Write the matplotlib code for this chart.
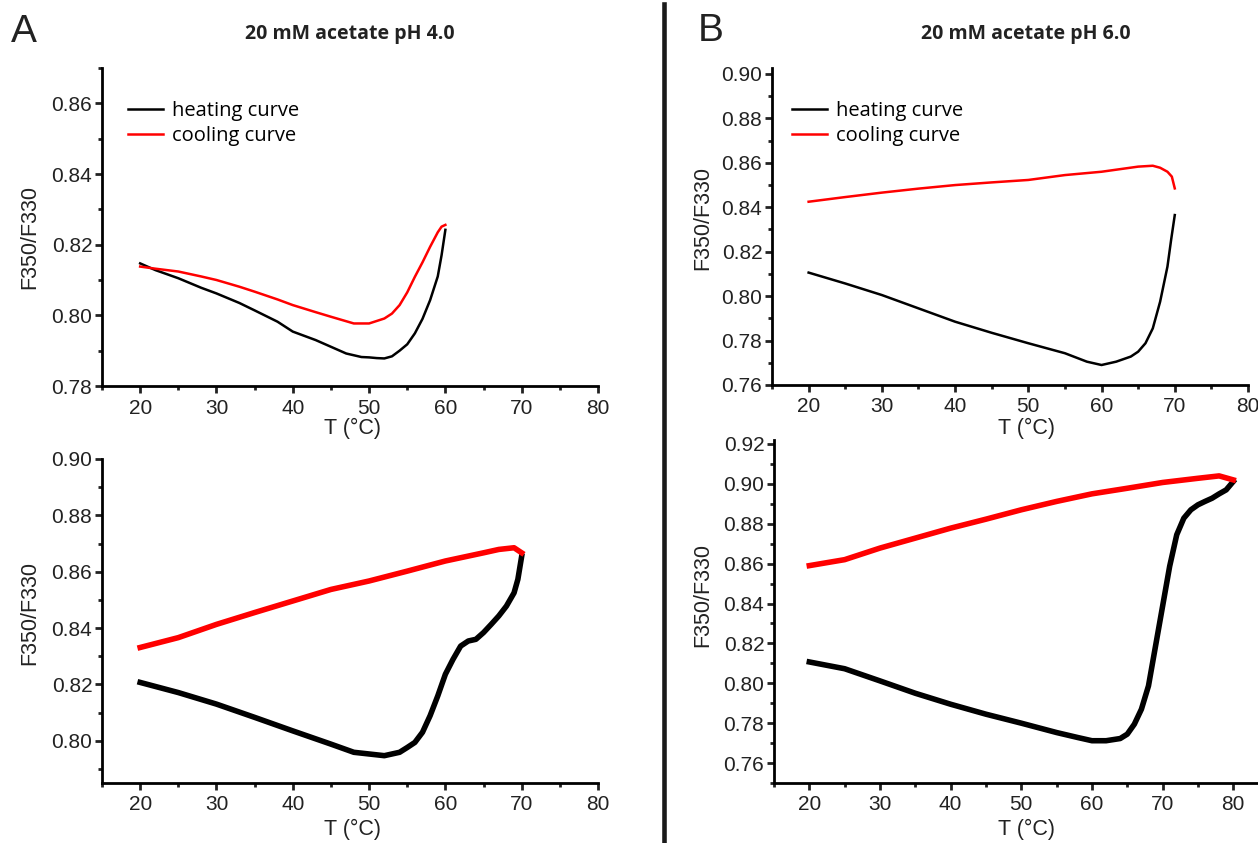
import matplotlib
matplotlib.use("Agg")
import matplotlib.pyplot as plt
from matplotlib.lines import Line2D
from matplotlib.ticker import MultipleLocator, FormatStrFormatter

# panel A top: 20 mM acetate pH 4.0, heated to 60 C
a1_heat_t = [20, 22, 25, 28, 30, 33, 35, 38, 40, 43, 45, 47, 49, 50, 51, 52, 53, 54, 55, 56, 57, 58, 59, 59.5, 60]
a1_heat_y = [0.8147, 0.8128, 0.8105, 0.8078, 0.8062, 0.8035, 0.8014, 0.7982, 0.7954, 0.7930, 0.7911, 0.7892, 0.7882, 0.7881, 0.7879, 0.7878, 0.7884, 0.7900, 0.7918, 0.7949, 0.7990, 0.8043, 0.8110, 0.8170, 0.8242]
a1_cool_t = [20, 22, 25, 28, 30, 33, 35, 38, 40, 43, 45, 48, 50, 52, 53, 54, 55, 56, 57, 58, 59, 59.5, 60]
a1_cool_y = [0.8138, 0.8132, 0.8124, 0.8110, 0.8100, 0.8081, 0.8067, 0.8045, 0.8029, 0.8009, 0.7996, 0.7977, 0.7977, 0.7991, 0.8005, 0.8029, 0.8065, 0.8109, 0.8150, 0.8194, 0.8235, 0.8251, 0.8256]

# panel A bottom: pH 4.0, heated to 70 C
a2_heat_t = [20, 25, 30, 35, 40, 45, 48, 50, 52, 54, 55, 56, 57, 58, 59, 60, 61, 62, 63, 64, 65, 66, 67, 68, 69, 69.5, 70]
a2_heat_y = [0.8207, 0.8171, 0.8130, 0.8083, 0.8035, 0.7988, 0.7959, 0.7953, 0.7947, 0.7959, 0.7976, 0.7994, 0.8030, 0.8089, 0.8159, 0.8236, 0.8289, 0.8336, 0.8354, 0.8360, 0.8384, 0.8413, 0.8443, 0.8478, 0.8525, 0.8573, 0.8655]
a2_cool_t = [20, 25, 30, 35, 40, 45, 50, 55, 60, 65, 67, 69, 70]
a2_cool_y = [0.8331, 0.8366, 0.8413, 0.8455, 0.8496, 0.8537, 0.8567, 0.8602, 0.8638, 0.8667, 0.8679, 0.8685, 0.8667]

# panel B top: 20 mM acetate pH 6.0, heated to 70 C
b1_heat_t = [20, 25, 30, 35, 40, 45, 50, 55, 58, 60, 62, 64, 65, 66, 67, 68, 69, 69.5, 70]
b1_heat_y = [0.8106, 0.8057, 0.8005, 0.7945, 0.7885, 0.7835, 0.7788, 0.7743, 0.7705, 0.7690, 0.7705, 0.7728, 0.7750, 0.7788, 0.7855, 0.7975, 0.8133, 0.8253, 0.8365]
b1_cool_t = [20, 25, 30, 35, 40, 45, 50, 55, 60, 65, 67, 68, 69, 69.6, 70]
b1_cool_y = [0.8425, 0.8446, 0.8466, 0.8484, 0.8500, 0.8512, 0.8523, 0.8545, 0.8560, 0.8583, 0.8587, 0.8578, 0.8560, 0.8538, 0.8485]

# panel B bottom: pH 6.0, heated to 80 C
b2_heat_t = [20, 25, 30, 35, 40, 45, 50, 55, 58, 60, 62, 64, 65, 66, 67, 68, 69, 70, 71, 72, 73, 74, 75, 76, 77, 78, 79, 80]
b2_heat_y = [0.8107, 0.8073, 0.8012, 0.7950, 0.7895, 0.7845, 0.7800, 0.7753, 0.7728, 0.7712, 0.7712, 0.7723, 0.7745, 0.7795, 0.7870, 0.7987, 0.8187, 0.8387, 0.8587, 0.8745, 0.8828, 0.8870, 0.8895, 0.8912, 0.8928, 0.8950, 0.8970, 0.9012]
b2_cool_t = [20, 25, 30, 35, 40, 45, 50, 55, 60, 65, 70, 75, 78, 80]
b2_cool_y = [0.8590, 0.8620, 0.8678, 0.8728, 0.8778, 0.8823, 0.8870, 0.8912, 0.8950, 0.8978, 0.9007, 0.9028, 0.9040, 0.9020]

plt.rcParams['font.family'] = ['Liberation Sans', 'DejaVu Sans']

W, H = 1258, 843
fig = plt.figure(figsize=(W / 100, H / 100), dpi=100)

text_font = 'Open Sans'


def px_axes(left, right, top, bottom):
    return fig.add_axes([left / W, 1 - bottom / H, (right - left) / W, (bottom - top) / H])


def style(ax, xlim, ylim, ymajor):
    ax.set_xlim(*xlim)
    ax.set_ylim(*ylim)
    for s in ['top', 'right']:
        ax.spines[s].set_visible(False)
    for s in ['left', 'bottom']:
        ax.spines[s].set_linewidth(2.0)
    ax.xaxis.set_major_locator(MultipleLocator(10))
    ax.xaxis.set_minor_locator(MultipleLocator(5))
    ax.yaxis.set_major_locator(MultipleLocator(ymajor))
    ax.yaxis.set_minor_locator(MultipleLocator(ymajor / 2))
    ax.yaxis.set_major_formatter(FormatStrFormatter('%.2f'))
    ax.tick_params(which='major', direction='out', length=5, width=2.0, labelsize=15, colors='#222222')
    ax.tick_params(which='minor', direction='out', length=3, width=2.0, colors='#222222')
    ax.tick_params(axis='x', which='major', pad=4)
    ax.tick_params(axis='y', which='major', pad=2)
    ax.set_xticks([20, 30, 40, 50, 60, 70, 80])


def labels(xc, yc, xlx, xly):
    fig.text(xc / W, 1 - yc / H, 'F350/F330', rotation=90, ha='center', va='center',
             fontsize=15.5, color='#222222')
    fig.text(xlx / W, 1 - xly / H, 'T (°C)', ha='center', va='center',
             fontsize=15.5, color='#222222')


# top left
ax1 = px_axes(102, 598, 68, 386)
ax1.plot(a1_heat_t, a1_heat_y, color='black', lw=1.8, label='heating curve')
ax1.plot(a1_cool_t, a1_cool_y, color='#ff0000', lw=1.8, label='cooling curve')
style(ax1, (15, 80), (0.78, 0.87), 0.02)
ax1.legend(loc='upper left', bbox_to_anchor=(0.052, 0.895), frameon=False, borderpad=0, borderaxespad=0,
           handlelength=1.75, handletextpad=0.45, labelspacing=0.22, prop={'family': text_font, 'size': 14.5})
labels(30, 237, 352, 428)

# bottom left
ax2 = px_axes(102, 598, 459, 783)
ax2.plot(a2_heat_t, a2_heat_y, color='black', lw=4)
ax2.plot(a2_cool_t, a2_cool_y, color='#ff0000', lw=4)
style(ax2, (15, 80), (0.785, 0.90), 0.02)
labels(30, 613, 352, 829)

# top right
ax3 = px_axes(772, 1248, 68, 385)
ax3.plot(b1_heat_t, b1_heat_y, color='black', lw=1.8, label='heating curve')
ax3.plot(b1_cool_t, b1_cool_y, color='#ff0000', lw=1.8, label='cooling curve')
style(ax3, (15, 80), (0.76, 0.9027), 0.02)
ax3.legend(loc='upper left', bbox_to_anchor=(0.042, 0.895), frameon=False, borderpad=0, borderaxespad=0,
           handlelength=1.75, handletextpad=0.45, labelspacing=0.22, prop={'family': text_font, 'size': 14.5})
labels(703, 218, 1027, 428)

# bottom right
ax4 = px_axes(774, 1258, 440, 783)
ax4.plot(b2_heat_t, b2_heat_y, color='black', lw=4)
ax4.plot(b2_cool_t, b2_cool_y, color='#ff0000', lw=4)
style(ax4, (15, 83.5), (0.75, 0.922), 0.02)
labels(703, 595, 1027, 829)

# titles, panel letters, divider
fig.text(350 / W, 1 - 34 / H, '20 mM acetate pH 4.0', ha='center', va='center',
         fontsize=14, fontweight='bold', family=text_font, color='#222222')
fig.text(1026 / W, 1 - 34 / H, '20 mM acetate pH 6.0', ha='center', va='center',
         fontsize=14, fontweight='bold', family=text_font, color='#222222')
fig.text(24 / W, 1 - 32 / H, 'A', ha='center', va='center', fontsize=28, color='#222222')
fig.text(711 / W, 1 - 31 / H, 'B', ha='center', va='center', fontsize=28, color='#222222')
fig.add_artist(Line2D([664 / W, 664 / W], [0, 1 - 4 / H], lw=3.3, color='#1a1a1a'))

fig.savefig('out.png', dpi=100)
